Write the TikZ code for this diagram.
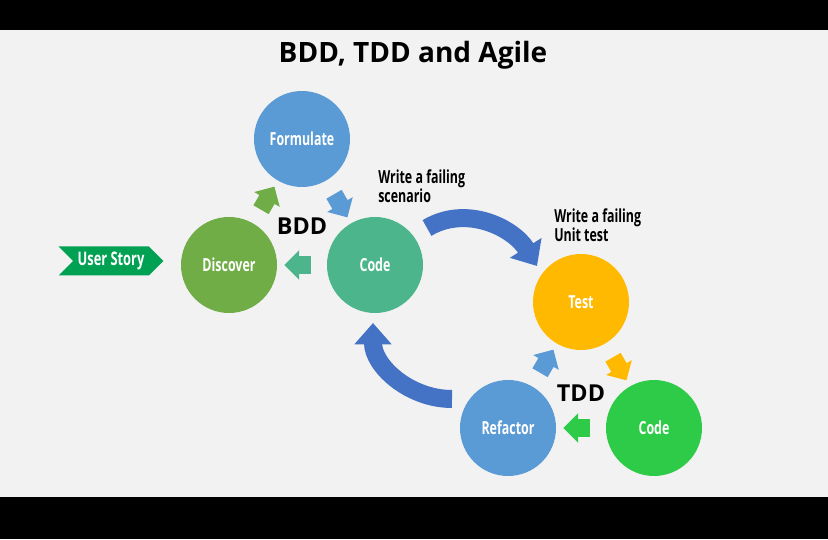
\documentclass[tikz,border=0pt]{standalone}
\usepackage{fontspec}
\setmainfont{Open Sans}
\newfontfamily\condfont{Open Sans}[FakeStretch=0.69]
\usepackage{xcolor}
\usepackage{tikz}
\usetikzlibrary{positioning, arrows.meta, shapes.arrows, shapes.symbols}

\definecolor{bggray}{HTML}{F2F2F2}
\definecolor{formblue}{HTML}{5B9BD5}
\definecolor{discgreen}{HTML}{70AD47}
\definecolor{codeteal}{HTML}{4CB58C}
\definecolor{testgold}{HTML}{FFB900}
\definecolor{codegreen}{HTML}{2DCB48}
\definecolor{loopblue}{HTML}{4472C4}
\definecolor{storygreen}{HTML}{00A152}

\begin{document}
\begin{tikzpicture}[
      x=0.75pt, y=0.75pt,
      phase/.style={circle, minimum size=72pt, inner sep=0pt, text=white,
        font=\condfont\bfseries\fontsize{13.5}{15}\selectfont},
      flowtip/.style={single arrow, single arrow head extend=4.5pt, minimum height=20pt,
        inner sep=6.4pt, sloped, allow upside down},
      bigarr/.style={line width=13.5pt, draw=loopblue, -{Triangle[length=16pt, width=27pt]}},
      notetext/.style={anchor=west, inner sep=0pt, align=left,
        font=\condfont\bfseries\fontsize{13.5}{13}\selectfont},
      cyclename/.style={font=\bfseries\fontsize{17.5}{20}\selectfont},
    ]
    % frame
    \fill[black] (0,0) rectangle (828,539);
    \fill[bggray] (0,42) rectangle (828,509);
    \useasboundingbox (0,0) rectangle (828,539);

    \node[font=\bfseries\fontsize{21}{24}\selectfont] (title) at (413,484) {BDD, TDD and Agile};

    % BDD cycle
    \node[phase, fill=formblue] (formulate) at (302,400) {Formulate};
    \node[phase, fill=discgreen] (discover) at (229,274) {Discover};
    \node[phase, fill=codeteal] (codebdd) at (375,274) {Code};
    \node[cyclename] (bdd) at (302,313) {BDD};
    \node[signal, signal to=east, signal from=west, fill=storygreen, text=white,
      minimum width=76.5pt, minimum height=21.75pt,
      font=\condfont\bfseries\fontsize{14}{15}\selectfont] (story) at (111,278) {User Story};

    % TDD cycle
    \node[phase, fill=testgold] (test) at (581,237) {Test};
    \node[phase, fill=formblue] (refactor) at (508,111) {Refactor};
    \node[phase, fill=codegreen] (codetdd) at (654,111) {Code};
    \node[cyclename] (tdd) at (581,146) {TDD};

    \node[notetext] (scenario) at (378,353) {Write a failing\\scenario};
    \node[notetext] (unittest) at (554,314) {Write a failing\\Unit test};

    \path (discover) -- node[flowtip, fill=discgreen] {} (formulate);
    \path (formulate) -- node[flowtip, fill=formblue] {} (codebdd);
    \path (codebdd) -- node[flowtip, fill=codeteal] {} (discover);
    \path (test) -- node[flowtip, fill=testgold] {} (codetdd);
    \path (codetdd) -- node[flowtip, fill=codegreen] {} (refactor);
    \path (refactor) -- node[flowtip, fill=formblue] {} (test);

    \draw[bigarr] ([shift={(52,37)}]codebdd.center) to[out=31, in=122] ([shift={(-44,36)}]test.center);
    \draw[bigarr] ([shift={(-56,29)}]refactor.center) to[out=180, in=-90] ([shift={(-2,-58)}]codebdd.center);
  \end{tikzpicture}
\end{document}
